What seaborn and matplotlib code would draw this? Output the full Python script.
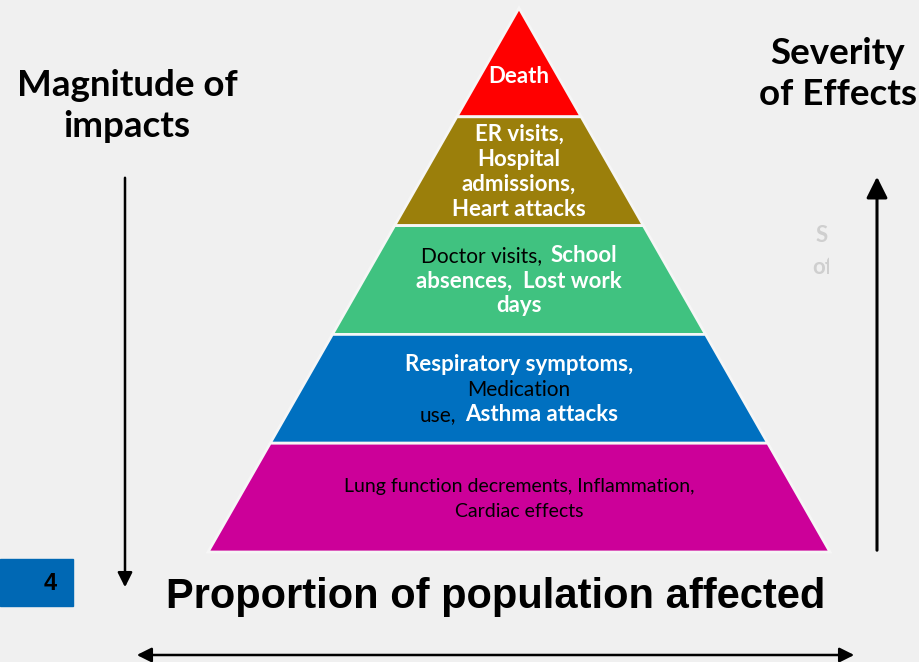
import matplotlib.pyplot as plt
import seaborn as sns
from matplotlib.offsetbox import TextArea, HPacker, AnnotationBbox
from matplotlib.patches import Rectangle

# Pyramid layers, top to bottom
layer_names = ["Death", "Emergency", "Doctor", "Symptoms", "Subclinical"]
layer_colors = ["#ff0000", "#9b7f0b", "#40c280", "#0070c0", "#cc0099"]

W = ("white", "bold")
K = ("black", "normal")

# each layer: lines -> segments (text, style)
layer_text = [
    [[("Death", W)]],
    [[("ER visits,", W)], [("Hospital", W)], [("admissions,", W)], [("Heart attacks", W)]],
    [[("Doctor visits,", K), ("School", W)], [("absences,  Lost work", W)], [("days", W)]],
    [[("Respiratory symptoms,", W)], [("Medication", K)], [("use,", K), ("Asthma attacks", W)]],
    [[("Lung function decrements, Inflammation,", K)], [("Cardiac effects", K)]],
]
# font sizes by style (bold white / normal black), bottom layer smaller
size_bold = 16
size_norm = 15
size_bottom = 14

left_label = "Magnitude of\nimpacts"
right_label = "Severity\nof Effects"
bottom_label = "Proportion of population affected"
slide_number = "4"

sns.set_theme(style="white")
plt.rcParams['font.family'] = ['Lato', 'DejaVu Sans']

fig = plt.figure(figsize=(9.2, 6.62), dpi=100)
fig.patch.set_facecolor("#f0f0f0")
ax = fig.add_axes([0, 0, 1, 1])
ax.set_facecolor("#f0f0f0")
ax.set_xlim(0, 920)
ax.set_ylim(662, 0)
ax.axis("off")

# pyramid geometry
apex_x, apex_y, base_y, half_base = 519, 8, 552, 311
n = len(layer_names)
step = (base_y - apex_y) / n


def half_w(y):
    return half_base * (y - apex_y) / (base_y - apex_y)


for i, (name, col) in enumerate(zip(layer_names, layer_colors)):
    y0 = apex_y + i * step
    y1 = y0 + step
    xs = [apex_x - half_w(y0), apex_x + half_w(y0), apex_x + half_w(y1), apex_x - half_w(y1)]
    ys = [y0, y0, y1, y1]
    ax.fill(xs, ys, color=col, ec="#f6f6f6", lw=2, zorder=2)

    cy = (y0 + y1) / 2 + (14 if i == 0 else 1)
    lines = layer_text[i]
    for j, line in enumerate(lines):
        ly = cy + (j - (len(lines) - 1) / 2) * 25
        parts = []
        for t, (c, w) in line:
            fs = size_bottom if i == n - 1 else (size_bold if w == "bold" else size_norm)
            parts.append(TextArea(t, textprops=dict(color=c, fontweight=w, fontsize=fs)))
        box = HPacker(children=parts, align="baseline", pad=0, sep=6)
        ab = AnnotationBbox(box, (apex_x, ly), frameon=False,
                            box_alignment=(0.5, 0.5), pad=0, zorder=3)
        ax.add_artist(ab)

# side labels
ax.text(127, 106, left_label, ha="center", va="center", fontsize=26.5,
        fontweight="bold", linespacing=1.32, color="black")
ax.text(838, 74, right_label, ha="center", va="center", fontsize=26.5,
        fontweight="bold", linespacing=1.32, color="black")
ax.text(496, 597, bottom_label, ha="center", va="center", fontsize=30,
        fontweight="bold", family="Liberation Sans", color="black")

# faint clipped text on right
clip = Rectangle((780, 200), 49, 100, transform=ax.transData)
for tx, ty, s in [(816, 235, "S"), (812, 267, "of")]:
    t = ax.text(tx, ty, s, ha="left", va="center", fontsize=16,
                fontweight="bold", color="#cfcfcf", clip_on=True)
    t.set_clip_path(clip)

# arrows
ax.annotate("", xy=(125, 590), xytext=(125, 175),
            arrowprops=dict(arrowstyle="-|>", lw=1.8, color="black",
                            mutation_scale=22))
ax.annotate("", xy=(877, 174), xytext=(877, 553),
            arrowprops=dict(arrowstyle="-|>", lw=2.2, color="black",
                            mutation_scale=32))
ax.annotate("", xy=(134, 655), xytext=(857, 655),
            arrowprops=dict(arrowstyle="<|-|>", lw=1.8, color="black",
                            mutation_scale=22))

# slide number box
ax.add_patch(Rectangle((0, 559), 73, 47, color="#0068b4", zorder=2))
ax.text(50, 583, slide_number, ha="center", va="center", fontsize=17,
        fontweight="bold", family="Liberation Sans", color="black", zorder=3)

fig.savefig("out.png", dpi=100, facecolor=fig.get_facecolor())
